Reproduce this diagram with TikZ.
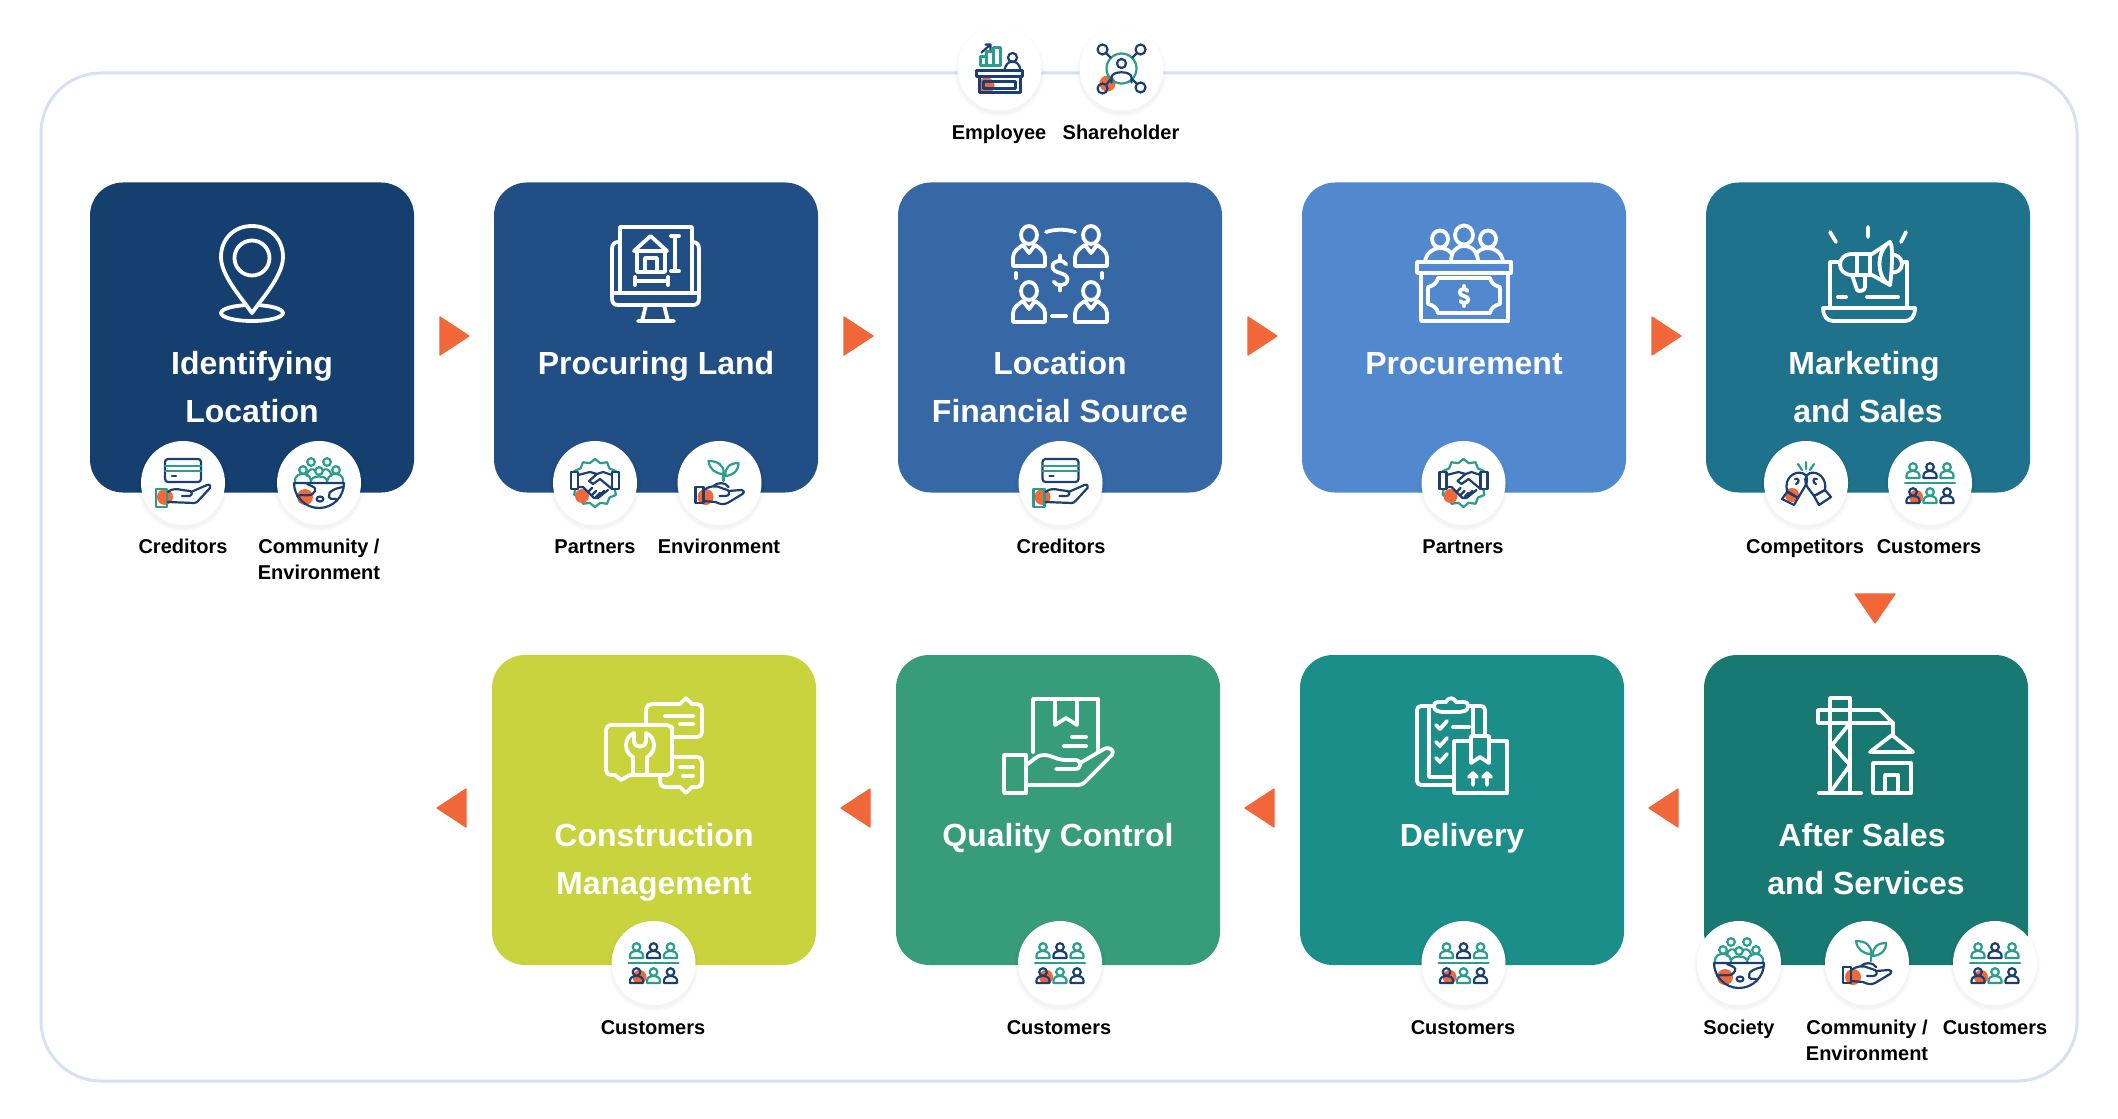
\documentclass[tikz,border=0pt]{standalone}
\usepackage{fontspec}
\setmainfont{Liberation Sans}
\definecolor{cA}{HTML}{153F6E}
\definecolor{cB}{HTML}{204E85}
\definecolor{cC}{HTML}{3668A5}
\definecolor{cD}{HTML}{5289CE}
\definecolor{cE}{HTML}{1F728C}
\definecolor{cF}{HTML}{187872}
\definecolor{cG}{HTML}{1C8E8A}
\definecolor{cH}{HTML}{369C79}
\definecolor{cI}{HTML}{C9D33E}
\definecolor{frameblue}{HTML}{D6E2F1}
\definecolor{arrowor}{HTML}{F26739}
\definecolor{icnavy}{HTML}{1C3F73}
\definecolor{icteal}{HTML}{2A9D8F}
\definecolor{icor}{HTML}{F0693A}
\tikzset{
  x=0.5pt,y=-0.5pt,
  cardbox/.style={rectangle,rounded corners=16.5pt,minimum width=162pt,minimum height=155pt,inner sep=0pt,outer sep=0pt,anchor=north west},
  frameline/.style={rectangle,draw=frameblue,line width=1.5pt,rounded corners=30pt,minimum width=1018pt,minimum height=504pt,inner sep=0pt},
  titletext/.style={text=white,align=center,font=\fontsize{16}{24}\selectfont\bfseries,inner sep=0pt},
  lab/.style={text=black,align=center,font=\fontsize{10}{13}\selectfont\bfseries,inner sep=0pt},
  wl/.style={draw=white,line width=1.9pt,line cap=round,line join=round},
  sl/.style={line width=1.1pt,line cap=round,line join=round},
  nv/.style={sl,draw=icnavy},
  tl/.style={sl,draw=icteal},
  badgecirc/.style={circle,fill=white,minimum size=42pt,inner sep=0pt,outer sep=0pt},
  flowarrow/.style={fill=arrowor,draw=arrowor,line width=.6pt,line join=round},
}
\newcommand{\badge}[4]{%
  \foreach \rr/\oo in {46/.006,45/.008,44/.01,43/.014}{\fill[black,opacity=\oo] (#2,#3+3) circle (\rr);}
  \node[badgecirc] (#1) at (#2,#3) {};
  \begin{scope}[shift={(#2,#3)}]#4\end{scope}%
}
\newcommand{\orb}[3]{\fill[icor] (#1,#2) circle (#3);}
\newcommand{\pers}[3]{\begin{scope}[shift={(#1,#2)}]
  \draw[sl,draw=#3] (0,4) circle (3.8);
  \draw[sl,draw=#3] (-6.5,15) -- (-6.5,12.5) .. controls (-6.5,6.5) and (6.5,6.5) .. (6.5,12.5) -- (6.5,15) -- cycle;
\end{scope}}
\newcommand{\icCredit}{%
  \draw[nv,rounded corners=1.5pt] (-18,-24) rectangle (18,-1);
  \draw[tl] (-18,-17) -- (18,-17) (-18,-12) -- (18,-12);
  \draw[nv] (-11,-7) -- (-7,-7);
  \orb{-18}{14}{8}
  \draw[tl] (-27,6) rectangle (-16,24);
  \draw[nv] (-15,9) .. controls (-11,5) and (-5,6) .. (-1,7) -- (7,8) .. controls (10,9) and (9,13) .. (6,13) -- (-1,13);
  \draw[nv] (8,9) -- (24,2) .. controls (27,1) and (28,3) .. (27,5) -- (15,18) .. controls (14,19) and (13,20) .. (11,20) -- (-15,19);
}
\newcommand{\icCustomers}{%
  \orb{-14}{14}{7}
  \draw[tl] (-25,0) -- (25,0);
  \pers{-17}{-20}{icteal}\pers{0}{-20}{icnavy}\pers{17}{-20}{icteal}
  \pers{-17}{5}{icnavy}\pers{0}{5}{icteal}\pers{17}{5}{icnavy}
}
\newcommand{\icGlobe}{%
  \orb{-14}{14}{8}
  \foreach \a/\b in {-8/-21,8/-21,-16/-13,0/-12,17/-13}{\draw[tl] (\a,\b) circle (3.8);}
  \draw[tl] (-24,0) .. controls (-25,-9) and (-18,-9) .. (-16,-9) .. controls (-9,-9) and (-8,-4) .. (-8,0);
  \draw[tl] (-8,-2) .. controls (-8,-8) and (8,-8) .. (8,-2);
  \draw[tl] (24,0) .. controls (25,-9) and (18,-9) .. (17,-9) .. controls (10,-9) and (8,-4) .. (8,0);
  \draw[tl] (-12,-7) .. controls (-12,-15) and (-4,-15) .. (-4,-12);
  \draw[tl] (12,-7) .. controls (12,-15) and (4,-15) .. (4,-12);
  \draw[nv] (-25,0) -- (25,0) (-25,0) arc (180:0:25);
  \draw[nv] (-22,13) .. controls (-14,10) and (-9,16) .. (-4,8) .. controls (-2,4) and (-8,3) .. (-12,1);
  \draw[nv] (1,16) ellipse (3.5 and 2.5);
  \draw[nv] (24,4) .. controls (18,5) and (8,8) .. (10,14) .. controls (12,18) and (16,14) .. (18,17);
}
\newcommand{\icPlant}{%
  \orb{-14}{14}{8}
  \draw[nv] (-24,4) rectangle (-16,20);
  \draw[nv] (-16,7) .. controls (-10,3) and (-4,2) .. (2,5) -- (8,7) .. controls (11,9) and (10,13) .. (6,13) -- (0,13);
  \draw[nv] (-6,3) .. controls (-2,-1) and (6,-1) .. (9,4);
  \draw[nv] (9,8) -- (22,7) .. controls (25,8) and (25,10) .. (23,11) -- (8,20) .. controls (4,22) and (0,21) .. (-4,19) -- (-16,18);
  \draw[tl] (4,-2) -- (4,-10);
  \draw[tl] (4,-9) .. controls (-4,-9) and (-10,-14) .. (-11,-22) .. controls (-2,-22) and (5,-18) .. (4,-9) -- cycle;
  \draw[tl] (6,-7) .. controls (14,-8) and (19,-12) .. (19,-20) .. controls (10,-20) and (5,-15) .. (6,-7) -- cycle;
}
\newcommand{\icShake}{%
  \draw[tl,fill=white] plot[samples at={0,...,23}] ({(mod(\x,2)==0?24:20.5)*cos(\x*15)},{(mod(\x,2)==0?24:20.5)*sin(\x*15)}) -- cycle;
  \orb{-13}{13}{7}
  \draw[nv,fill=white] (-24,-11) rectangle (-17,6);
  \draw[nv,fill=white] (17,-11) rectangle (24,6);
  \draw[nv] (-17,-8) -- (-5,-11) -- (2,-9) -- (-6,-2) -- (-2,1) -- (5,-4) -- (17,6);
  \draw[nv] (2,-9) -- (8,-11) -- (17,-8);
  \draw[nv] (13,7) -- (3,15) -- (-1,15) -- (-12,4) -- (-17,4);
  \draw[nv] (-7,9) -- (-3,5) (-3,12) -- (1,8) (1,14) -- (5,10) (5,12) -- (9,8);
}
\newcommand{\icGloves}{%
  \orb{-14}{12}{7}
  \draw[tl] (-8,-19) -- (-4,-13) (0,-21) -- (0,-14) (8,-19) -- (4,-13);
  \draw[nv] (-19,8) .. controls (-22,-5) and (-12,-12) .. (-4,-10) .. controls (3,-8) and (2,0) .. (-2,5) -- (-8,15) -- cycle;
  \draw[nv] (-19,9) -- (-8,15) -- (-12,22) -- (-24,16) -- cycle;
  \draw[nv] (19,7) .. controls (21,-5) and (12,-12) .. (4,-10) .. controls (-2,-8) and (-2,0) .. (2,5) -- (8,13) -- cycle;
  \draw[nv] (8,13) -- (19,7) -- (25,14) -- (13,22) -- cycle;
  \draw[nv] (-11,-4) .. controls (-7,-6) and (-6,0) .. (-10,1);
  \draw[nv] (11,-4) .. controls (7,-6) and (6,0) .. (10,1);
}
\newcommand{\icEmployee}{%
  \draw[tl] (-19,-12) rectangle (-13,-3) (-13,-17) rectangle (-6,-3) (-6,-21) rectangle (1,-3);
  \draw[nv] (-18,-16) -- (-9,-24) (-14,-24) -- (-9,-24) -- (-9,-19);
  \draw[nv] (13,-11) circle (4.5);
  \draw[nv] (5,2) .. controls (6,-10) and (20,-10) .. (21,2);
  \orb{-13}{17}{8}
  \draw[nv] (-23,2) rectangle (23,8);
  \draw[nv] (-20,8) rectangle (21,24);
  \draw[nv] (-16,13) rectangle (16,20);
}
\newcommand{\icHolder}{%
  \orb{-14}{15}{8}
  \draw[tl] (0,0) circle (15);
  \draw[nv] (-19,-19) circle (5) (19,-19) circle (5) (-19,20) circle (5) (19,19) circle (5);
  \draw[nv] (-15.5,-15.5) -- (-11,-11) (15.5,-15.5) -- (11,-11) (-15.5,16.5) -- (-11,11) (15.5,15.5) -- (11,11);
  \draw[nv] (0,-5) circle (4.5);
  \draw[nv] (-10,14) -- (-10,9) .. controls (-10,2) and (10,2) .. (10,9) -- (10,14);
}
\newcommand{\whiteperson}[3]{\begin{scope}[shift={(#1,#2)}]
  \draw[wl] (0,9) ellipse (8 and 9);
  \draw[wl] (-16,#3) -- (-16,31) .. controls (-16,25) and (-9,21) .. (-6,19) -- (0,27) -- (6,19) .. controls (9,21) and (16,25) .. (16,31) -- (16,#3) -- cycle;
\end{scope}}
\newcommand{\whitedollar}[3]{\begin{scope}[shift={(#1,#2)},scale=#3]
  \draw[wl] (5,-7) .. controls (3,-11) and (-6,-11) .. (-6,-5) .. controls (-6,1) and (6,-1) .. (6,5) .. controls (6,11) and (-3,11) .. (-5,7);
  \draw[wl] (0,-14) -- (0,-10) (0,10) -- (0,14);
\end{scope}}
\begin{document}
\begin{tikzpicture}
\useasboundingbox (0,0) rectangle (2118,1118);
\fill[white] (0,0) rectangle (2118,1118);
\node[frameline] (frame) at (1059,577) {};
% cards
\node[cardbox,fill=cA] (cardA) at (90,182.5) {};
\node[cardbox,fill=cB] (cardB) at (494,182.5) {};
\node[cardbox,fill=cC] (cardC) at (898,182.5) {};
\node[cardbox,fill=cD] (cardD) at (1302,182.5) {};
\node[cardbox,fill=cE] (cardE) at (1706,182.5) {};
\node[cardbox,fill=cF] (cardF) at (1704,655) {};
\node[cardbox,fill=cG] (cardG) at (1300,655) {};
\node[cardbox,fill=cH] (cardH) at (896,655) {};
\node[cardbox,fill=cI] (cardI) at (492,655) {};
% arrows
\foreach \xx in {439,843,1247,1651}{\draw[flowarrow] (\xx+1,317) -- (\xx+30,336) -- (\xx+1,355) -- cycle;}
\foreach \xx in {437,841,1245,1649}{\draw[flowarrow] (\xx+29,789) -- (\xx,808) -- (\xx+29,827) -- cycle;}
\draw[flowarrow] (1855,594) -- (1895,594) -- (1875,623) -- cycle;
% pin
\draw[wl] (252,313) ellipse (31 and 8);
\draw[wl,fill=cA] (252,313) .. controls (240,296) and (221,275) .. (221,257) .. controls (221,239) and (234,226) .. (252,226) .. controls (270,226) and (283,239) .. (283,257) .. controls (283,275) and (264,296) .. (252,313) -- cycle;
\draw[wl] (252,258) circle (17.5);
% computer
\draw[wl] (620,242) -- (618,242) .. controls (614,242) and (612,245) .. (612,249) -- (612,298) .. controls (612,303) and (614,305) .. (618,305) -- (693,305) .. controls (697,305) and (699,303) .. (699,298) -- (699,249) .. controls (699,245) and (697,242) .. (693,242) -- (692,242);
\draw[wl] (620,293) -- (620,227) -- (692,227) -- (692,293) (612,293) -- (699,293);
\draw[wl] (634,251) -- (650.5,236) -- (667,251) -- cycle;
\draw[wl] (637,251) -- (637,272) -- (665,272) -- (665,251);
\draw[wl] (645,272) -- (645,258) -- (657,258) -- (657,272);
\draw[wl] (675,236) -- (675,271) (671,236) -- (679,236) (671,271) -- (679,271);
\draw[wl] (635,281) -- (668,281) (635,277) -- (635,285) (668,277) -- (668,285);
\draw[wl] (646,305) -- (642,321) (664,305) -- (668,321) (638,321) -- (674,321);
% money people
\whiteperson{1029}{226}{40}
\whiteperson{1091}{226}{40}
\whiteperson{1029}{282}{40}
\whiteperson{1091}{282}{40}
\whitedollar{1060}{273}{1.25}
\draw[wl] (1046,232) .. controls (1055,229) and (1066,229) .. (1075,232);
\draw[wl] (1052,316) -- (1066,316) (1016,273) -- (1016,278) (1102,273) -- (1102,278);
% podium
\draw[wl] (1440,239) ellipse (8 and 8.5);
\draw[wl] (1488,239) ellipse (8 and 8.5);
\draw[wl] (1425,262) .. controls (1426,253) and (1433,248) .. (1440,248) .. controls (1445,248) and (1449,250) .. (1452,254);
\draw[wl] (1503,262) .. controls (1502,253) and (1495,248) .. (1488,248) .. controls (1483,248) and (1479,250) .. (1476,254);
\draw[wl] (1451,262) .. controls (1451,252) and (1456,246) .. (1464,246) .. controls (1472,246) and (1478,252) .. (1478,262);
\draw[wl] (1464,235) ellipse (9 and 9.5);
\draw[wl] (1417,262) rectangle (1511,273);
\draw[wl] (1421,273) rectangle (1508,321);
\draw[wl] (1438,278) -- (1490,278) .. controls (1491,283) and (1495,286) .. (1500,287) -- (1500,304) .. controls (1495,305) and (1491,308) .. (1490,313) -- (1438,313) .. controls (1437,308) and (1433,305) .. (1428,304) -- (1428,287) .. controls (1433,286) and (1437,283) .. (1438,278) -- cycle;
\whitedollar{1464}{296}{.72}
% marketing
\draw[wl] (1830,232) -- (1836,242) (1868,227) -- (1868,237) (1906,232) -- (1901,242);
\draw[wl] (1830,307) -- (1830,262) -- (1907,262) -- (1907,307);
\draw[wl] (1823,308) -- (1915,308) .. controls (1915,316) and (1911,321) .. (1905,321) -- (1833,321) .. controls (1827,321) and (1823,316) .. (1823,308) -- cycle;
\draw[wl] (1838,297) -- (1846,297) (1867,297) -- (1898,297);
\draw[wl,fill=cE] (1852,275) -- (1857,290) .. controls (1859,292) and (1865,291) .. (1865,287) -- (1865,275);
\draw[wl,fill=cE] (1890,255) .. controls (1896,253) and (1902,258) .. (1902,264) .. controls (1902,270) and (1896,274) .. (1890,272) -- cycle;
\draw[wl,fill=cE] (1852,254) -- (1872,254) -- (1890,242) .. controls (1885,246) and (1880,255) .. (1880,264) .. controls (1880,273) and (1885,281) .. (1890,285) -- (1872,275) -- (1852,275) .. controls (1836,275) and (1836,254) .. (1852,254) -- cycle;
\draw[wl,fill=cE] (1890,242) .. controls (1894,246) and (1891,280) .. (1890,285) .. controls (1876,278) and (1876,250) .. (1890,242) -- cycle;
\draw[wl] (1857,254) -- (1857,275) (1870,254) -- (1870,275);
% crane
\draw[wl] (1830,793) -- (1830,698) -- (1850,698) -- (1850,793);
\draw[wl] (1818,710) rectangle (1830,723);
\draw[wl] (1830,710) -- (1880,710) -- (1893,723) -- (1830,723);
\draw[wl] (1850,723) -- (1832,745) -- (1850,765) -- (1832,790);
\draw[wl] (1819,793) -- (1861,793);
\draw[wl] (1893,723) -- (1893,735);
\draw[wl] (1892,735) -- (1870,752) -- (1913,752) -- cycle;
\draw[wl] (1873,763) rectangle (1911,793);
\draw[wl] (1885,793) -- (1885,775) -- (1898,775) -- (1898,793);
% delivery
\draw[wl,rounded corners=2pt] (1434,706) -- (1417,706) -- (1417,785) -- (1454,785);
\draw[wl] (1429,706) -- (1429,777) -- (1454,777);
\draw[wl,rounded corners=2pt] (1468,706) -- (1485,706) -- (1485,736);
\draw[wl] (1473,706) -- (1473,736);
\draw[wl] (1434,706) .. controls (1434,701) and (1438,702) .. (1446,702) .. controls (1448,697) and (1454,697) .. (1456,702) .. controls (1464,702) and (1468,701) .. (1468,706) .. controls (1468,711) and (1464,712) .. (1456,712) -- (1446,712) .. controls (1438,712) and (1434,711) .. (1434,706) -- cycle;
\foreach \yy in {725,742,758}{\draw[wl] (1436,\yy) -- (1440,\yy+4) -- (1447,\yy-4);}
\draw[wl] (1453,727) -- (1469,727);
\draw[wl] (1454,741) rectangle (1507,793);
\draw[wl,fill=cG] (1471,736) -- (1489,736) -- (1489,763) -- (1480,757) -- (1471,763) -- cycle;
\draw[wl] (1473,785) -- (1473,773) (1469,777) -- (1473,773) -- (1477,777);
\draw[wl] (1487,785) -- (1487,773) (1483,777) -- (1487,773) -- (1491,777);
% quality
\draw[wl] (1033,752) -- (1033,699) -- (1098,699) -- (1098,752);
\draw[wl] (1055,699) -- (1055,725) -- (1066,718) -- (1077,725) -- (1077,699);
\draw[wl] (1072,737) -- (1086,737) (1064,746) -- (1086,746);
\draw[wl] (1004,755) rectangle (1026,793);
\draw[wl,fill=cH] (1026,765) .. controls (1032,762) and (1036,755) .. (1044,755) .. controls (1052,755) and (1056,760) .. (1066,760) -- (1075,760) .. controls (1082,760) and (1082,769) .. (1075,769) -- (1056,769);
\draw[wl] (1080,763) -- (1104,749) .. controls (1110,746) and (1115,751) .. (1112,755) -- (1085,782) .. controls (1083,784) and (1081,785) .. (1078,785) -- (1026,785);
% construction
\draw[wl,fill=cI] (652,704) -- (680,704) -- (686,698) -- (692,704) -- (697,704) .. controls (700,704) and (702,706) .. (702,709) -- (702,732) .. controls (702,735) and (700,737) .. (697,737) -- (672,737) -- (672,727) -- (646,725) -- (646,709) .. controls (646,706) and (649,704) .. (652,704) -- cycle;
\draw[wl] (665,716) -- (693,716) (680,724) -- (693,724);
\draw[wl] (672,757) -- (696,757) .. controls (700,757) and (702,759) .. (702,762) -- (702,782) .. controls (702,785) and (700,787) .. (697,787) -- (692,787) -- (686,793) -- (680,787) -- (666,787) .. controls (662,787) and (660,785) .. (660,782) -- (660,774);
\draw[wl] (680,767) -- (693,767) (683,776) -- (693,776);
\draw[wl,fill=cI] (612,725) -- (667,725) .. controls (670,725) and (672,727) .. (672,730) -- (672,770) .. controls (672,773) and (670,775) .. (667,775) -- (630,775) -- (621,780) -- (615,775) -- (612,775) .. controls (608,775) and (606,773) .. (606,770) -- (606,730) .. controls (606,727) and (608,725) .. (612,725) -- cycle;
\draw[wl] (633,774) -- (633,757) .. controls (623,752) and (624,737) .. (634,733) -- (634,742) .. controls (634,748) and (646,748) .. (646,742) -- (646,733) .. controls (656,737) and (657,752) .. (647,757) -- (647,774);
% titles
\node[titletext] (tA) at (252,388.4) {\strut Identifying\\\strut Location};
\node[titletext] (tB) at (656,364.4) {\strut Procuring Land};
\node[titletext] (tC) at (1060,388.4) {\strut Location\\\strut Financial Source};
\node[titletext] (tD) at (1464,364.4) {\strut Procurement};
\node[titletext] (tE) at (1868,388.4) {\strut Marketing\hspace*{4pt}\\\strut and Sales};
\node[titletext] (tF) at (1866,860.9) {\strut After Sales\hspace*{4pt}\\\strut and Services};
\node[titletext] (tG) at (1462,836.9) {\strut Delivery};
\node[titletext] (tH) at (1058,836.9) {\strut Quality Control};
\node[titletext] (tI) at (654,860.9) {\strut Construction\\\strut Management};
% badges
\badge{bEmp}{999.5}{68.5}{\icEmployee}
\badge{bSha}{1121.5}{68.5}{\icHolder}
\badge{bA1}{183}{483}{\icCredit}
\badge{bA2}{319}{483}{\icGlobe}
\badge{bB1}{595}{483}{\icShake}
\badge{bB2}{719.5}{483}{\icPlant}
\badge{bC1}{1060.5}{483}{\icCredit}
\badge{bD1}{1463.5}{483}{\icShake}
\badge{bE1}{1806}{483}{\icGloves}
\badge{bE2}{1930}{483}{\icCustomers}
\badge{bF1}{1739}{963}{\icGlobe}
\badge{bF2}{1867}{963}{\icPlant}
\badge{bF3}{1995}{963}{\icCustomers}
\badge{bG1}{1463.5}{963}{\icCustomers}
\badge{bH1}{1060}{963}{\icCustomers}
\badge{bI1}{653.5}{963}{\icCustomers}
% labels
\node[lab] (lEmp) at (999,134) {\strut Employee};
\node[lab] (lSha) at (1121,134) {\strut Shareholder};
\node[lab] (lA1) at (183,548.5) {\strut Creditors};
\node[lab] (lA2) at (319,561.5) {\strut Community /\\\strut Environment};
\node[lab] (lB1) at (595,548.5) {\strut Partners};
\node[lab] (lB2) at (719,548.5) {\strut Environment};
\node[lab] (lC1) at (1061,548.5) {\strut Creditors};
\node[lab] (lD1) at (1463,548.5) {\strut Partners};
\node[lab] (lE1) at (1805,548.5) {\strut Competitors};
\node[lab] (lE2) at (1929,548.5) {\strut Customers};
\node[lab] (lF1) at (1739,1029) {\strut Society};
\node[lab] (lF2) at (1867,1042) {\strut Community /\\\strut Environment};
\node[lab] (lF3) at (1995,1029) {\strut Customers};
\node[lab] (lG1) at (1463,1029) {\strut Customers};
\node[lab] (lH1) at (1059,1029) {\strut Customers};
\node[lab] (lI1) at (653,1029) {\strut Customers};
\end{tikzpicture}
\end{document}
